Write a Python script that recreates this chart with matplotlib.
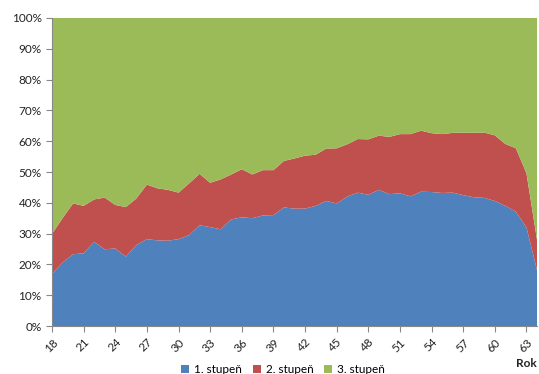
import matplotlib
matplotlib.use('Agg')
import matplotlib.pyplot as plt
import numpy as np
from matplotlib.ticker import FuncFormatter, MultipleLocator
from matplotlib.patches import Patch

years = list(range(18, 65))

# shares in percent for each age
stupen_1 = [16.9, 20.6, 23.3, 23.6, 27.3, 24.9, 25.2, 22.5, 26.3, 28.2,
            27.8, 27.7, 28.2, 29.5, 32.7, 32.1, 31.4, 34.6, 35.3, 35.0,
            35.9, 36.0, 38.5, 38.1, 38.1, 39.0, 40.6, 39.8, 42.0, 43.3,
            42.6, 44.2, 42.8, 43.1, 42.1, 43.6, 43.5, 43.2, 43.3, 42.5,
            41.8, 41.6, 40.6, 39.0, 37.1, 32.0, 18.2]
stupen_2 = [13.0, 14.4, 16.5, 15.4, 13.8, 16.8, 14.1, 16.1, 15.1, 17.7,
            16.9, 16.5, 15.1, 16.8, 16.7, 14.4, 16.2, 14.6, 15.6, 14.2,
            14.7, 14.6, 15.1, 16.3, 17.2, 16.6, 17.0, 17.9, 17.0, 17.4,
            18.0, 17.6, 18.6, 19.2, 20.2, 19.8, 19.1, 19.1, 19.4, 20.3,
            20.9, 21.2, 21.3, 20.1, 20.6, 17.6, 9.8]
stupen_3 = [70.1, 65.0, 60.2, 61.0, 58.9, 58.3, 60.7, 61.4, 58.6, 54.1,
            55.3, 55.8, 56.7, 53.7, 50.6, 53.5, 52.4, 50.8, 49.1, 50.8,
            49.4, 49.4, 46.4, 45.6, 44.7, 44.4, 42.4, 42.3, 41.0, 39.3,
            39.4, 38.2, 38.6, 37.7, 37.7, 36.6, 37.4, 37.7, 37.3, 37.2,
            37.3, 37.2, 38.1, 40.9, 42.3, 50.4, 72.0]
labels = ['1. stupeň', '2. stupeň', '3. stupeň']
colors = ['#4F81BD', '#C0504D', '#9BBB59']

plt.rcParams['font.family'] = ['Lato', 'DejaVu Sans']

fig = plt.figure(figsize=(5.39, 3.74), dpi=100)
ax = fig.add_axes([0.0965, 0.1283, 0.8998, 0.8236])

ax.stackplot(years, stupen_1, stupen_2, stupen_3, colors=colors, linewidth=0)
ax.set_xlim(18, 64)
ax.set_ylim(0, 100)

ax.yaxis.set_major_locator(MultipleLocator(10))
ax.yaxis.set_major_formatter(FuncFormatter(lambda v, p: f'{int(round(v))}%'))
ax.set_xticks(years[::3])
ax.set_xticklabels([str(y) for y in years[::3]], rotation=45,
                   ha='right', va='top', rotation_mode='anchor')

for side in ['top', 'right']:
    ax.spines[side].set_visible(False)
for side in ['left', 'bottom']:
    ax.spines[side].set_color('#888888')
ax.tick_params(axis='both', colors='#888888', labelcolor='#222222',
               labelsize=8.5, length=4, direction='out')

fig.text(0.976, 0.029, 'Rok', ha='center', va='center',
         fontsize=8.5, fontweight='bold', color='#222222')

handles = [Patch(facecolor=c, label=l) for c, l in zip(colors, labels)]
fig.legend(handles=handles, loc='center', bbox_to_anchor=(0.525, 0.012),
           ncol=3, frameon=False, fontsize=8.5, handlelength=0.7,
           handleheight=0.7, columnspacing=0.9, handletextpad=0.4)

fig.savefig('out.png', dpi=100)
